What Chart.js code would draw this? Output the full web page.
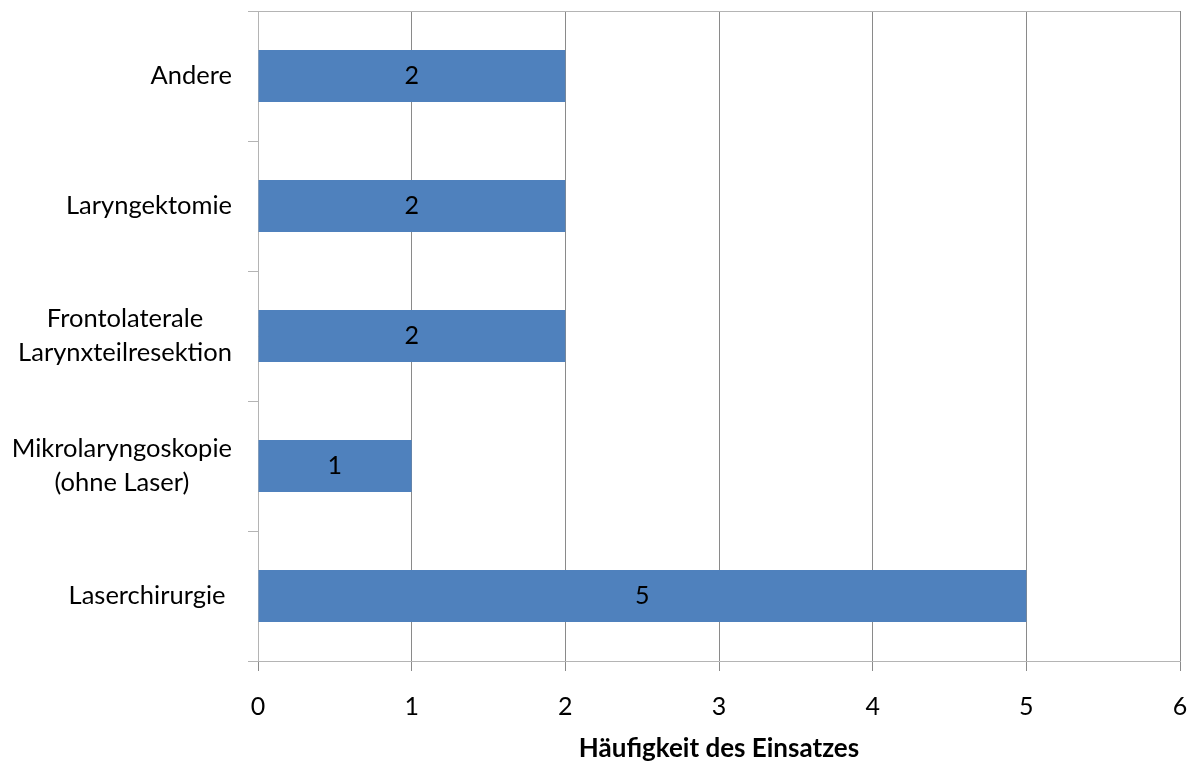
<!DOCTYPE html>
<html>
<head>
<meta charset="utf-8">
<script src="https://cdn.jsdelivr.net/npm/chart.js"></script>
<style>
  html, body { margin: 0; padding: 0; background: #fff; }
  #wrap { width: 1192px; height: 762px; }
</style>
</head>
<body>
<div id="wrap"><canvas id="myChart" width="1192" height="762"></canvas></div>
<script>
// categories top to bottom, as in the picture
const categories = [
  ['Andere'],
  ['Laryngektomie'],
  ['Frontolaterale', 'Larynxteilresektion'],
  ['Mikrolaryngoskopie', '(ohne Laser)'],
  ['Laserchirurgie ']
];
const counts = [2, 2, 2, 1, 5];
const xTicks = [0, 1, 2, 3, 4, 5, 6];
const xTitle = 'Häufigkeit des Einsatzes';

const FONT = 'Lato, "Open Sans", sans-serif';
const GRID = '#8a8a8a';
const AXIS = '#b4b4b4';

// category labels: block right aligned, lines centred within the block (like Excel)
const catLabels = {
  id: 'catLabels',
  afterDraw(chart) {
    const ctx = chart.ctx;
    const y = chart.scales.y;
    ctx.save();
    ctx.font = '25.5px ' + FONT;
    ctx.fillStyle = '#000';
    ctx.textAlign = 'center';
    ctx.textBaseline = 'middle';
    const lh = 34;
    const right = y.right - 26;
    categories.forEach((lines, i) => {
      const w = Math.max(...lines.map(l => ctx.measureText(l).width));
      const cx = right - w / 2;
      const cy = y.getPixelForTick(i);
      lines.forEach((l, k) => {
        ctx.fillText(l, cx, cy + (k - (lines.length - 1) / 2) * lh);
      });
    });
    ctx.restore();
  }
};

// value labels in the middle of each bar, plus the plot-area top border
const extras = {
  id: 'extras',
  afterDatasetsDraw(chart) {
    const ctx = chart.ctx;
    const area = chart.chartArea;
    ctx.save();
    ctx.strokeStyle = AXIS;
    ctx.lineWidth = 1;
    ctx.beginPath();
    ctx.moveTo(area.left, area.top + 0.5);
    ctx.lineTo(area.right, area.top + 0.5);
    ctx.stroke();

    ctx.font = '25px ' + FONT;
    ctx.fillStyle = '#000';
    ctx.textAlign = 'center';
    ctx.textBaseline = 'middle';
    chart.getDatasetMeta(0).data.forEach((bar, i) => {
      const x0 = chart.scales.x.getPixelForValue(0);
      ctx.fillText(String(counts[i]), (bar.x + x0) / 2, bar.y);
    });
    ctx.restore();
  }
};

const ctx = document.getElementById('myChart').getContext('2d');
new Chart(ctx, {
  type: 'bar',
  data: {
    labels: categories,
    datasets: [{
      data: counts,
      backgroundColor: '#4f81bd',
      borderWidth: 0,
      categoryPercentage: 1,
      barPercentage: 0.4
    }]
  },
  plugins: [catLabels, extras],
  options: {
    indexAxis: 'y',
    responsive: false,
    animation: false,
    layout: { padding: { left: 0, right: 12, top: 11, bottom: 0 } },
    plugins: {
      legend: { display: false },
      tooltip: { enabled: false }
    },
    scales: {
      x: {
        min: xTicks[0],
        max: xTicks[xTicks.length - 1],
        afterBuildTicks: s => { s.ticks = xTicks.map(v => ({ value: v })); },
        grid: { color: GRID, lineWidth: 1, tickLength: 10 },
        border: { color: AXIS, width: 1 },
        ticks: { color: '#000', padding: 21, font: { family: FONT, size: 25 } },
        title: {
          display: true,
          text: xTitle,
          color: '#000',
          padding: { top: 0, bottom: -2 },
          font: { family: FONT, size: 26, weight: 'bold' }
        },
        afterFit: s => { s.height = 101; s.paddingLeft = 0; s.paddingRight = 0; }
      },
      y: {
        offset: true,
        grid: { offset: true, drawOnChartArea: false, color: AXIS, tickLength: 10 },
        border: { color: AXIS, width: 1 },
        ticks: { display: false },
        afterFit: s => { s.width = 258; }
      }
    }
  }
});
</script>
</body>
</html>
